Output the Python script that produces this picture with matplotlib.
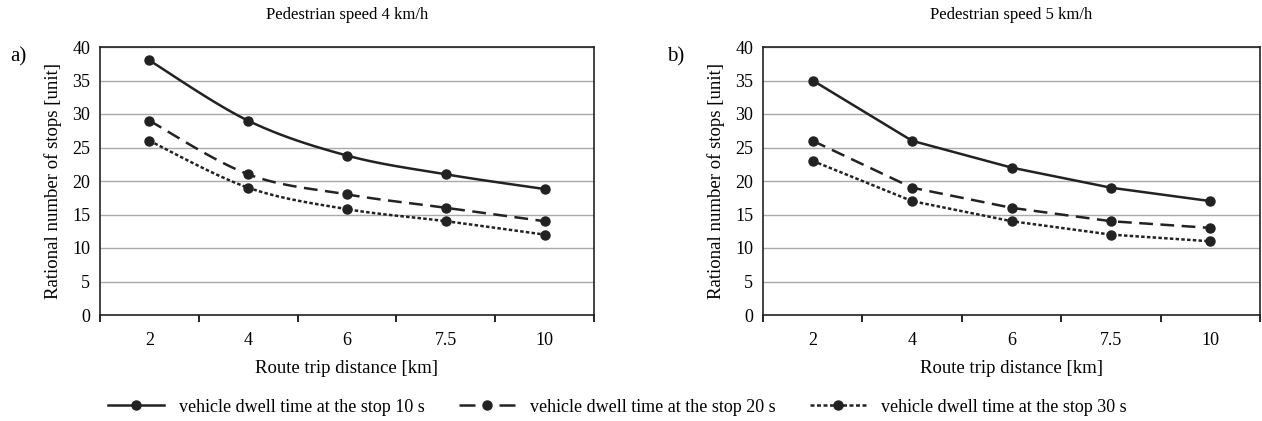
import numpy as np
import matplotlib
matplotlib.use("Agg")
import matplotlib.pyplot as plt
from matplotlib.lines import Line2D

plt.rcParams['font.family'] = ['Liberation Serif', 'DejaVu Serif']

categories = ["2", "4", "6", "7.5", "10"]
series_labels = ["vehicle dwell time at the stop 10 s",
                 "vehicle dwell time at the stop 20 s",
                 "vehicle dwell time at the stop 30 s"]
a_10s = [38, 29, 23.8, 21, 18.8]
a_20s = [29, 21, 18, 16, 14]
a_30s = [26, 19, 15.8, 14, 12]
b_10s = [35, 26, 22, 19, 17]
b_20s = [26, 19, 16, 14, 13]
b_30s = [23, 17, 14, 12, 11]
titles = ["Pedestrian speed 4 km/h", "Pedestrian speed 5 km/h"]
panel_tags = ["a)", "b)"]

styles = [dict(linestyle='-'),
          dict(dashes=(5.5, 3.0)),
          dict(dashes=(1.4, 0.9))]
legend_styles = [dict(linestyle='-'),
                 dict(dashes=(6.4, 9.6)),
                 dict(dashes=(1.6, 1.0))]


def catmull(x, y, n=20):
    x = np.asarray(x, float); y = np.asarray(y, float)
    px = np.concatenate([[x[0]], x, [x[-1]]])
    py = np.concatenate([[y[0]], y, [y[-1]]])
    ox, oy = [], []
    for i in range(1, len(px) - 2):
        t = np.linspace(0, 1, n, endpoint=(i == len(px) - 3))
        for arr, out in ((px, ox), (py, oy)):
            p0, p1, p2, p3 = arr[i - 1], arr[i], arr[i + 1], arr[i + 2]
            out.extend(0.5 * ((2 * p1) + (-p0 + p2) * t +
                              (2 * p0 - 5 * p1 + 4 * p2 - p3) * t ** 2 +
                              (-p0 + 3 * p1 - 3 * p2 + p3) * t ** 3))
    return np.array(ox), np.array(oy)


fig = plt.figure(figsize=(12.62, 4.21), dpi=100)
ax_a = fig.add_axes([100 / 1262, 1 - 315 / 421, 494 / 1262, 268 / 421])
ax_b = fig.add_axes([763 / 1262, 1 - 315 / 421, 497 / 1262, 268 / 421])

panels = [(ax_a, [a_10s, a_20s, a_30s], True), (ax_b, [b_10s, b_20s, b_30s], False)]
xs = np.arange(len(categories))
for k, (ax, data, smooth) in enumerate(panels):
    for vals, st in zip(data, styles):
        if smooth:
            sx, sy = catmull(xs, vals)
        else:
            sx, sy = xs, vals
        ax.plot(sx, sy, color='#222222', lw=1.8, **st)
        ax.plot(xs, vals, 'o', color='#222222', ms=6.5, ls='none')
    ax.set_xlim(-0.5, len(categories) - 0.5)
    ax.set_ylim(0, 40)
    ax.set_yticks(np.arange(0, 41, 5))
    ax.set_xticks(xs)
    ax.set_xticklabels(categories)
    ax.set_xticks(np.arange(-0.5, len(categories), 1), minor=True)
    ax.tick_params(axis='x', which='major', length=0, pad=12, labelsize=13)
    ax.tick_params(axis='x', which='minor', length=5, width=1.2, direction='out')
    ax.tick_params(axis='y', length=0, pad=7, labelsize=13)
    ax.grid(axis='y', color='#aaaaaa', lw=1.0)
    ax.set_axisbelow(True)
    for s in ax.spines.values():
        s.set_linewidth(1.2)
        s.set_color('#222222')
    ax.set_ylabel("Rational number of stops [unit]", fontsize=13.5, labelpad=7)
    ax.set_xlabel("Route trip distance [km]", fontsize=13.5, labelpad=8)
    ax.set_title(titles[k], fontsize=12, pad=20)

fig.text(10 / 1262, 1 - 57 / 421, panel_tags[0], fontsize=15, va='center')
fig.text(667 / 1262, 1 - 57 / 421, panel_tags[1], fontsize=15, va='center')

handles = [Line2D([], [], color='#222222', lw=1.8, marker='o', ms=6.5, markevery=[1], **st)
           for st in legend_styles]
leg = fig.legend(handles, series_labels, loc='center', bbox_to_anchor=(617.5 / 1262, 1 - 407 / 421),
                 ncol=3, frameon=False, fontsize=13, handlelength=3.1,
                 columnspacing=1.9, handletextpad=0.83)
fig.savefig("out.png", dpi=100)
